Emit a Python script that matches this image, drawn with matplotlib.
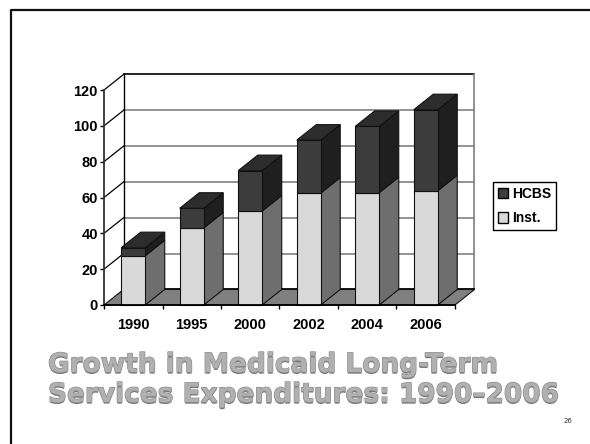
import matplotlib
matplotlib.use("Agg")
import matplotlib.pyplot as plt
import matplotlib.patheffects as pe
from matplotlib.patches import Polygon, Patch
from matplotlib.lines import Line2D

plt.rcParams['font.family'] = ['Liberation Sans', 'DejaVu Sans']

years = ['1990', '1995', '2000', '2002', '2004', '2006']
inst = [27.5, 43, 52.5, 62.5, 62.7, 63.8]
hcbs = [4.5, 11, 22.5, 29.5, 37, 45.2]
yticks = [0, 20, 40, 60, 80, 100, 120]

W, H = 590, 444
fig = plt.figure(figsize=(W / 100, H / 100), dpi=100, facecolor='white')
# front plane of the 3d box, in pixels
ax = fig.add_axes([104 / W, 1 - 305 / H, 351 / W, 215 / H])
ax.set_xlim(0, 6)
ax.set_ylim(0, 120)
ax.patch.set_visible(False)

dx = 1 / 3      # depth of box in category units
dy = 8.66       # depth of box in value units
half = 0.205    # half bar width


def face(pts, color, z, edge='#111111', lw=0.8):
    ax.add_patch(Polygon(pts, closed=True, facecolor=color, edgecolor=edge,
                         linewidth=lw, zorder=z, clip_on=False))


#floor
face([(0, 0), (6, 0), (6 + dx, dy), (dx, dy)], '#808080', 1)

#back wall and side wall lines
for v in yticks[1:]:
    col = 'black' if v == 120 else '#808080'
    ax.plot([dx, 6 + dx], [v + dy, v + dy], color=col, lw=1.2, zorder=0.5, clip_on=False)
    ax.plot([0, dx], [v, v + dy], color='black', lw=0.9, zorder=0.6, clip_on=False)
ax.plot([dx, dx], [dy, 120 + dy], color='black', lw=1.0, zorder=0.6, clip_on=False)
ax.plot([6 + dx, 6 + dx], [dy, 120 + dy], color='#808080', lw=1.2, zorder=0.6, clip_on=False)
ax.plot([dx, 6 + dx], [dy, dy], color='black', lw=1.3, zorder=0.7, clip_on=False)

#bars, left to right
for i, (a, b) in enumerate(zip(inst, hcbs)):
    c = i + 0.5
    x0 = c - half
    x1 = c + half
    t = a + b
    z = 2 + i
    face([(x1, 0), (x1 + dx, dy), (x1 + dx, a + dy), (x1, a)], '#6e6e6e', z)
    face([(x0, 0), (x1, 0), (x1, a), (x0, a)], '#d9d9d9', z)
    face([(x1, a), (x1 + dx, a + dy), (x1 + dx, t + dy), (x1, t)], '#1f1f1f', z)
    face([(x0, a), (x1, a), (x1, t), (x0, t)], '#3c3c3c', z)
    face([(x0, t), (x1, t), (x1 + dx, t + dy), (x0 + dx, t + dy)], '#2d2d2d', z)

for s in ['top', 'right']:
    ax.spines[s].set_visible(False)
ax.spines['left'].set_linewidth(1.3)
ax.spines['left'].set_color('#333333')
ax.spines['bottom'].set_linewidth(1.3)
ax.spines['left'].set_zorder(20)
ax.spines['bottom'].set_zorder(20)

ax.set_yticks(yticks)
ax.tick_params(axis='y', length=3, width=1, labelsize=10.5, pad=1.5)
ax.set_xticks(range(7))
ax.set_xticklabels([])
ax.set_xticks([i + 0.5 for i in range(6)], minor=True)
ax.set_xticklabels(years, minor=True)
ax.tick_params(axis='x', which='major', length=3, width=1)
ax.tick_params(axis='x', which='minor', length=0, labelsize=10.5, pad=9.5)
for lab in ax.get_yticklabels() + ax.get_xticklabels(minor=True):
    lab.set_fontweight('bold')

handles = [Patch(facecolor='#3c3c3c', edgecolor='black', label='HCBS'),
           Patch(facecolor='#d9d9d9', edgecolor='black', label='Inst.')]
leg = fig.legend(handles=handles, loc='upper left', bbox_to_anchor=(493 / W, 1 - 182 / H),
                 borderaxespad=0, fancybox=False, framealpha=1, edgecolor='black',
                 handlelength=0.75, handleheight=0.75, handletextpad=0.28,
                 labelspacing=0.75, borderpad=0.36,
                 prop={'weight': 'bold', 'size': 10})
leg.get_frame().set_linewidth(1.0)

#slide frame
fig.add_artist(Line2D([11 / W, 11 / W, 1], [0, 1 - 10 / H, 1 - 10 / H],
                      color='#111111', lw=1.6, transform=fig.transFigure))

#title
effects = [pe.withSimplePatchShadow(offset=(0, -1.2), shadow_rgbFace='#777777', alpha=1),
           pe.withStroke(linewidth=0.9, foreground='#8c8c8c')]
for txt, yp in [('Growth in Medicaid Long-Term', 372), ('Services Expenditures: 1990\u20132006', 402)]:
    fig.text(48 / W, 1 - yp / H, txt, family='DejaVu Sans', weight='bold', fontsize=19,
             color='#b0b0b0', ha='left', va='baseline', path_effects=effects)

fig.text(568 / W, 1 - 421 / H, '26', family='DejaVu Sans', fontsize=5, color='#333333',
         ha='center', va='center')

fig.savefig('out.png', dpi=100)
